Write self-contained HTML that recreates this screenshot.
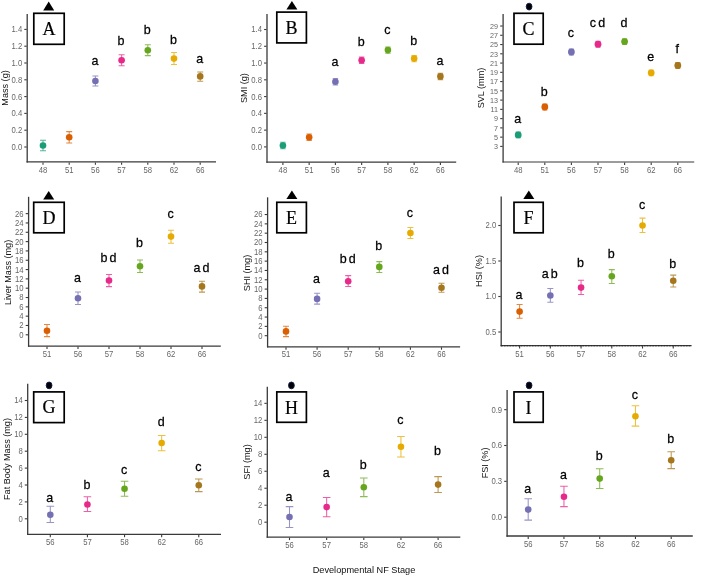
<!DOCTYPE html>
<html lang="en">
<head>
<meta charset="utf-8">
<title>Developmental NF Stage figure</title>
<style>
html,body{margin:0;padding:0;background:#fff;}
body{width:702px;height:577px;overflow:hidden;}
svg{display:block;filter:blur(0.4px);}
.tk{font-family:"Liberation Sans",Arial,sans-serif;font-size:7.7px;fill:#666666;stroke:#666666;stroke-width:0px;}
.yt{font-family:"Liberation Sans",Arial,sans-serif;font-size:9.1px;fill:#111;}
.lt{font-family:"Liberation Sans",Arial,sans-serif;font-size:12.5px;fill:#000;stroke:#000;stroke-width:0.25px;word-spacing:-1.4px;}
.pl{font-family:"Liberation Serif","Times New Roman",serif;font-size:18px;fill:#000;stroke:#000;stroke-width:0.2px;}
.xt{font-family:"Liberation Sans",Arial,sans-serif;font-size:9.2px;fill:#111;}
</style>
</head>
<body>
<svg width="702" height="577" viewBox="0 0 702 577">
<rect x="0" y="0" width="702" height="577" fill="#ffffff"/>
<g id="panel-A">
<path d="M27.20 14.00V162.50" fill="none" stroke="#3a3a3a" stroke-width="1.30"/>
<path d="M26.55 161.90H216.00" fill="none" stroke="#3a3a3a" stroke-width="1.20"/>
<path d="M24.30 147.00h2.4" stroke="#3a3a3a" stroke-width="1.1"/>
<text class="tk" transform="translate(22.20 149.95) scale(1 1.08)" text-anchor="end">0.0</text>
<path d="M24.30 130.20h2.4" stroke="#3a3a3a" stroke-width="1.1"/>
<text class="tk" transform="translate(22.20 133.15) scale(1 1.08)" text-anchor="end">0.2</text>
<path d="M24.30 113.40h2.4" stroke="#3a3a3a" stroke-width="1.1"/>
<text class="tk" transform="translate(22.20 116.35) scale(1 1.08)" text-anchor="end">0.4</text>
<path d="M24.30 96.60h2.4" stroke="#3a3a3a" stroke-width="1.1"/>
<text class="tk" transform="translate(22.20 99.55) scale(1 1.08)" text-anchor="end">0.6</text>
<path d="M24.30 79.80h2.4" stroke="#3a3a3a" stroke-width="1.1"/>
<text class="tk" transform="translate(22.20 82.75) scale(1 1.08)" text-anchor="end">0.8</text>
<path d="M24.30 63.00h2.4" stroke="#3a3a3a" stroke-width="1.1"/>
<text class="tk" transform="translate(22.20 65.95) scale(1 1.08)" text-anchor="end">1.0</text>
<path d="M24.30 46.20h2.4" stroke="#3a3a3a" stroke-width="1.1"/>
<text class="tk" transform="translate(22.20 49.15) scale(1 1.08)" text-anchor="end">1.2</text>
<path d="M24.30 29.40h2.4" stroke="#3a3a3a" stroke-width="1.1"/>
<text class="tk" transform="translate(22.20 32.35) scale(1 1.08)" text-anchor="end">1.4</text>
<path d="M43.00 162.40v2.4" stroke="#3a3a3a" stroke-width="1.1"/>
<text class="tk" transform="translate(43.00 172.70) scale(1 1.08)" text-anchor="middle">48</text>
<path d="M69.20 162.40v2.4" stroke="#3a3a3a" stroke-width="1.1"/>
<text class="tk" transform="translate(69.20 172.70) scale(1 1.08)" text-anchor="middle">51</text>
<path d="M95.40 162.40v2.4" stroke="#3a3a3a" stroke-width="1.1"/>
<text class="tk" transform="translate(95.40 172.70) scale(1 1.08)" text-anchor="middle">56</text>
<path d="M121.60 162.40v2.4" stroke="#3a3a3a" stroke-width="1.1"/>
<text class="tk" transform="translate(121.60 172.70) scale(1 1.08)" text-anchor="middle">57</text>
<path d="M147.80 162.40v2.4" stroke="#3a3a3a" stroke-width="1.1"/>
<text class="tk" transform="translate(147.80 172.70) scale(1 1.08)" text-anchor="middle">58</text>
<path d="M174.00 162.40v2.4" stroke="#3a3a3a" stroke-width="1.1"/>
<text class="tk" transform="translate(174.00 172.70) scale(1 1.08)" text-anchor="middle">62</text>
<path d="M200.20 162.40v2.4" stroke="#3a3a3a" stroke-width="1.1"/>
<text class="tk" transform="translate(200.20 172.70) scale(1 1.08)" text-anchor="middle">66</text>
<text class="yt" transform="translate(8.00 87.95) rotate(-90)" text-anchor="middle">Mass (g)</text>
<path d="M43.00 140.30V150.70M40.00 140.30h6.00M40.00 150.70h6.00" fill="none" stroke="#1B9E77" stroke-width="1.05" opacity="0.75"/>
<circle cx="43.00" cy="145.50" r="3.30" fill="#1B9E77"/>
<path d="M69.20 131.60V142.90M66.20 131.60h6.00M66.20 142.90h6.00" fill="none" stroke="#D95F02" stroke-width="1.05" opacity="0.75"/>
<circle cx="69.20" cy="137.20" r="3.30" fill="#D95F02"/>
<path d="M95.40 76.00V86.00M92.40 76.00h6.00M92.40 86.00h6.00" fill="none" stroke="#7570B3" stroke-width="1.05" opacity="0.75"/>
<circle cx="95.40" cy="81.00" r="3.30" fill="#7570B3"/>
<text class="lt" transform="translate(94.90 65.40) scale(1 1.04)" text-anchor="middle">a</text>
<path d="M121.60 54.70V65.80M118.60 54.70h6.00M118.60 65.80h6.00" fill="none" stroke="#E7298A" stroke-width="1.05" opacity="0.75"/>
<circle cx="121.60" cy="60.30" r="3.30" fill="#E7298A"/>
<text class="lt" transform="translate(121.10 45.10) scale(1 1.04)" text-anchor="middle">b</text>
<path d="M147.80 44.70V55.60M144.80 44.70h6.00M144.80 55.60h6.00" fill="none" stroke="#66A61E" stroke-width="1.05" opacity="0.75"/>
<circle cx="147.80" cy="50.20" r="3.30" fill="#66A61E"/>
<text class="lt" transform="translate(147.30 33.50) scale(1 1.04)" text-anchor="middle">b</text>
<path d="M174.00 52.50V64.40M171.00 52.50h6.00M171.00 64.40h6.00" fill="none" stroke="#E6AB02" stroke-width="1.05" opacity="0.75"/>
<circle cx="174.00" cy="58.60" r="3.30" fill="#E6AB02"/>
<text class="lt" transform="translate(173.50 43.90) scale(1 1.04)" text-anchor="middle">b</text>
<path d="M200.20 71.90V81.30M197.20 71.90h6.00M197.20 81.30h6.00" fill="none" stroke="#A6761D" stroke-width="1.05" opacity="0.75"/>
<circle cx="200.20" cy="76.40" r="3.30" fill="#A6761D"/>
<text class="lt" transform="translate(199.70 63.30) scale(1 1.04)" text-anchor="middle">a</text>
<rect x="33.80" y="13.30" width="30.40" height="31.00" fill="#fff" stroke="#000" stroke-width="1.7"/>
<text class="pl" x="49.00" y="35.20" text-anchor="middle">A</text>
<path d="M48.70 1.50L54.20 10.40H43.20Z" fill="#000"/>
</g>
<g id="panel-B">
<path d="M267.00 14.00V162.70" fill="none" stroke="#3a3a3a" stroke-width="1.30"/>
<path d="M266.35 162.10H456.20" fill="none" stroke="#3a3a3a" stroke-width="1.20"/>
<path d="M264.10 146.90h2.4" stroke="#3a3a3a" stroke-width="1.1"/>
<text class="tk" transform="translate(262.00 149.85) scale(1 1.08)" text-anchor="end">0.0</text>
<path d="M264.10 130.13h2.4" stroke="#3a3a3a" stroke-width="1.1"/>
<text class="tk" transform="translate(262.00 133.08) scale(1 1.08)" text-anchor="end">0.2</text>
<path d="M264.10 113.36h2.4" stroke="#3a3a3a" stroke-width="1.1"/>
<text class="tk" transform="translate(262.00 116.31) scale(1 1.08)" text-anchor="end">0.4</text>
<path d="M264.10 96.59h2.4" stroke="#3a3a3a" stroke-width="1.1"/>
<text class="tk" transform="translate(262.00 99.54) scale(1 1.08)" text-anchor="end">0.6</text>
<path d="M264.10 79.82h2.4" stroke="#3a3a3a" stroke-width="1.1"/>
<text class="tk" transform="translate(262.00 82.77) scale(1 1.08)" text-anchor="end">0.8</text>
<path d="M264.10 63.05h2.4" stroke="#3a3a3a" stroke-width="1.1"/>
<text class="tk" transform="translate(262.00 66.00) scale(1 1.08)" text-anchor="end">1.0</text>
<path d="M264.10 46.28h2.4" stroke="#3a3a3a" stroke-width="1.1"/>
<text class="tk" transform="translate(262.00 49.23) scale(1 1.08)" text-anchor="end">1.2</text>
<path d="M264.10 29.51h2.4" stroke="#3a3a3a" stroke-width="1.1"/>
<text class="tk" transform="translate(262.00 32.46) scale(1 1.08)" text-anchor="end">1.4</text>
<path d="M282.90 162.60v2.4" stroke="#3a3a3a" stroke-width="1.1"/>
<text class="tk" transform="translate(282.90 172.90) scale(1 1.08)" text-anchor="middle">48</text>
<path d="M309.15 162.60v2.4" stroke="#3a3a3a" stroke-width="1.1"/>
<text class="tk" transform="translate(309.15 172.90) scale(1 1.08)" text-anchor="middle">51</text>
<path d="M335.40 162.60v2.4" stroke="#3a3a3a" stroke-width="1.1"/>
<text class="tk" transform="translate(335.40 172.90) scale(1 1.08)" text-anchor="middle">56</text>
<path d="M361.65 162.60v2.4" stroke="#3a3a3a" stroke-width="1.1"/>
<text class="tk" transform="translate(361.65 172.90) scale(1 1.08)" text-anchor="middle">57</text>
<path d="M387.90 162.60v2.4" stroke="#3a3a3a" stroke-width="1.1"/>
<text class="tk" transform="translate(387.90 172.90) scale(1 1.08)" text-anchor="middle">58</text>
<path d="M414.15 162.60v2.4" stroke="#3a3a3a" stroke-width="1.1"/>
<text class="tk" transform="translate(414.15 172.90) scale(1 1.08)" text-anchor="middle">62</text>
<path d="M440.40 162.60v2.4" stroke="#3a3a3a" stroke-width="1.1"/>
<text class="tk" transform="translate(440.40 172.90) scale(1 1.08)" text-anchor="middle">66</text>
<text class="yt" transform="translate(247.10 88.05) rotate(-90)" text-anchor="middle">SMI (g)</text>
<path d="M282.90 142.30V148.70M280.20 142.30h5.40M280.20 148.70h5.40" fill="none" stroke="#1B9E77" stroke-width="1.05" opacity="0.75"/>
<circle cx="282.90" cy="145.50" r="3.30" fill="#1B9E77"/>
<path d="M309.15 134.00V140.40M306.45 134.00h5.40M306.45 140.40h5.40" fill="none" stroke="#D95F02" stroke-width="1.05" opacity="0.75"/>
<circle cx="309.15" cy="137.20" r="3.30" fill="#D95F02"/>
<path d="M335.40 78.60V85.00M332.70 78.60h5.40M332.70 85.00h5.40" fill="none" stroke="#7570B3" stroke-width="1.05" opacity="0.75"/>
<circle cx="335.40" cy="81.80" r="3.30" fill="#7570B3"/>
<text class="lt" transform="translate(334.90 66.30) scale(1 1.04)" text-anchor="middle">a</text>
<path d="M361.65 57.10V63.50M358.95 57.10h5.40M358.95 63.50h5.40" fill="none" stroke="#E7298A" stroke-width="1.05" opacity="0.75"/>
<circle cx="361.65" cy="60.30" r="3.30" fill="#E7298A"/>
<text class="lt" transform="translate(361.15 45.90) scale(1 1.04)" text-anchor="middle">b</text>
<path d="M387.90 46.90V53.30M385.20 46.90h5.40M385.20 53.30h5.40" fill="none" stroke="#66A61E" stroke-width="1.05" opacity="0.75"/>
<circle cx="387.90" cy="50.10" r="3.30" fill="#66A61E"/>
<text class="lt" transform="translate(387.40 33.80) scale(1 1.04)" text-anchor="middle">c</text>
<path d="M414.15 55.40V61.80M411.45 55.40h5.40M411.45 61.80h5.40" fill="none" stroke="#E6AB02" stroke-width="1.05" opacity="0.75"/>
<circle cx="414.15" cy="58.60" r="3.30" fill="#E6AB02"/>
<text class="lt" transform="translate(413.65 45.10) scale(1 1.04)" text-anchor="middle">b</text>
<path d="M440.40 73.20V79.60M437.70 73.20h5.40M437.70 79.60h5.40" fill="none" stroke="#A6761D" stroke-width="1.05" opacity="0.75"/>
<circle cx="440.40" cy="76.40" r="3.30" fill="#A6761D"/>
<text class="lt" transform="translate(439.90 65.40) scale(1 1.04)" text-anchor="middle">a</text>
<rect x="276.80" y="12.10" width="29.60" height="30.80" fill="#fff" stroke="#000" stroke-width="1.7"/>
<text class="pl" x="291.60" y="33.50" text-anchor="middle">B</text>
<path d="M291.90 0.90L297.40 9.40H286.40Z" fill="#000"/>
</g>
<g id="panel-C">
<path d="M503.10 14.00V162.60" fill="none" stroke="#3a3a3a" stroke-width="1.30"/>
<path d="M502.45 162.00H694.20" fill="none" stroke="#3a3a3a" stroke-width="1.20"/>
<path d="M500.20 146.40h2.4" stroke="#3a3a3a" stroke-width="1.1"/>
<text class="tk" style="font-size:7.2px" transform="translate(498.10 149.15) scale(1 1.08)" text-anchor="end">3</text>
<path d="M500.20 137.14h2.4" stroke="#3a3a3a" stroke-width="1.1"/>
<text class="tk" style="font-size:7.2px" transform="translate(498.10 139.89) scale(1 1.08)" text-anchor="end">5</text>
<path d="M500.20 127.88h2.4" stroke="#3a3a3a" stroke-width="1.1"/>
<text class="tk" style="font-size:7.2px" transform="translate(498.10 130.63) scale(1 1.08)" text-anchor="end">7</text>
<path d="M500.20 118.62h2.4" stroke="#3a3a3a" stroke-width="1.1"/>
<text class="tk" style="font-size:7.2px" transform="translate(498.10 121.37) scale(1 1.08)" text-anchor="end">9</text>
<path d="M500.20 109.36h2.4" stroke="#3a3a3a" stroke-width="1.1"/>
<text class="tk" style="font-size:7.2px" transform="translate(498.10 112.11) scale(1 1.08)" text-anchor="end">11</text>
<path d="M500.20 100.10h2.4" stroke="#3a3a3a" stroke-width="1.1"/>
<text class="tk" style="font-size:7.2px" transform="translate(498.10 102.85) scale(1 1.08)" text-anchor="end">13</text>
<path d="M500.20 90.84h2.4" stroke="#3a3a3a" stroke-width="1.1"/>
<text class="tk" style="font-size:7.2px" transform="translate(498.10 93.59) scale(1 1.08)" text-anchor="end">15</text>
<path d="M500.20 81.58h2.4" stroke="#3a3a3a" stroke-width="1.1"/>
<text class="tk" style="font-size:7.2px" transform="translate(498.10 84.33) scale(1 1.08)" text-anchor="end">17</text>
<path d="M500.20 72.32h2.4" stroke="#3a3a3a" stroke-width="1.1"/>
<text class="tk" style="font-size:7.2px" transform="translate(498.10 75.07) scale(1 1.08)" text-anchor="end">19</text>
<path d="M500.20 63.06h2.4" stroke="#3a3a3a" stroke-width="1.1"/>
<text class="tk" style="font-size:7.2px" transform="translate(498.10 65.81) scale(1 1.08)" text-anchor="end">21</text>
<path d="M500.20 53.80h2.4" stroke="#3a3a3a" stroke-width="1.1"/>
<text class="tk" style="font-size:7.2px" transform="translate(498.10 56.55) scale(1 1.08)" text-anchor="end">23</text>
<path d="M500.20 44.54h2.4" stroke="#3a3a3a" stroke-width="1.1"/>
<text class="tk" style="font-size:7.2px" transform="translate(498.10 47.29) scale(1 1.08)" text-anchor="end">25</text>
<path d="M500.20 35.28h2.4" stroke="#3a3a3a" stroke-width="1.1"/>
<text class="tk" style="font-size:7.2px" transform="translate(498.10 38.03) scale(1 1.08)" text-anchor="end">27</text>
<path d="M500.20 26.02h2.4" stroke="#3a3a3a" stroke-width="1.1"/>
<text class="tk" style="font-size:7.2px" transform="translate(498.10 28.77) scale(1 1.08)" text-anchor="end">29</text>
<path d="M518.20 162.50v2.4" stroke="#3a3a3a" stroke-width="1.1"/>
<text class="tk" transform="translate(518.20 172.80) scale(1 1.08)" text-anchor="middle">48</text>
<path d="M544.80 162.50v2.4" stroke="#3a3a3a" stroke-width="1.1"/>
<text class="tk" transform="translate(544.80 172.80) scale(1 1.08)" text-anchor="middle">51</text>
<path d="M571.40 162.50v2.4" stroke="#3a3a3a" stroke-width="1.1"/>
<text class="tk" transform="translate(571.40 172.80) scale(1 1.08)" text-anchor="middle">56</text>
<path d="M598.00 162.50v2.4" stroke="#3a3a3a" stroke-width="1.1"/>
<text class="tk" transform="translate(598.00 172.80) scale(1 1.08)" text-anchor="middle">57</text>
<path d="M624.60 162.50v2.4" stroke="#3a3a3a" stroke-width="1.1"/>
<text class="tk" transform="translate(624.60 172.80) scale(1 1.08)" text-anchor="middle">58</text>
<path d="M651.20 162.50v2.4" stroke="#3a3a3a" stroke-width="1.1"/>
<text class="tk" transform="translate(651.20 172.80) scale(1 1.08)" text-anchor="middle">62</text>
<path d="M677.80 162.50v2.4" stroke="#3a3a3a" stroke-width="1.1"/>
<text class="tk" transform="translate(677.80 172.80) scale(1 1.08)" text-anchor="middle">66</text>
<text class="yt" transform="translate(484.30 88.00) rotate(-90)" text-anchor="middle">SVL (mm)</text>
<path d="M518.20 132.00V137.80M515.70 132.00h5.00M515.70 137.80h5.00" fill="none" stroke="#1B9E77" stroke-width="1.05" opacity="0.75"/>
<circle cx="518.20" cy="134.90" r="3.40" fill="#1B9E77"/>
<text class="lt" transform="translate(517.70 123.30) scale(1 1.04)" text-anchor="middle">a</text>
<path d="M544.80 104.10V109.90M542.30 104.10h5.00M542.30 109.90h5.00" fill="none" stroke="#D95F02" stroke-width="1.05" opacity="0.75"/>
<circle cx="544.80" cy="107.00" r="3.40" fill="#D95F02"/>
<text class="lt" transform="translate(544.30 95.80) scale(1 1.04)" text-anchor="middle">b</text>
<path d="M571.40 49.10V54.90M568.90 49.10h5.00M568.90 54.90h5.00" fill="none" stroke="#7570B3" stroke-width="1.05" opacity="0.75"/>
<circle cx="571.40" cy="52.00" r="3.40" fill="#7570B3"/>
<text class="lt" transform="translate(570.90 37.20) scale(1 1.04)" text-anchor="middle">c</text>
<path d="M598.00 41.30V47.10M595.50 41.30h5.00M595.50 47.10h5.00" fill="none" stroke="#E7298A" stroke-width="1.05" opacity="0.75"/>
<circle cx="598.00" cy="44.20" r="3.40" fill="#E7298A"/>
<text class="lt" transform="translate(597.50 27.30) scale(1 1.04)" text-anchor="middle">c d</text>
<path d="M624.60 38.70V44.50M622.10 38.70h5.00M622.10 44.50h5.00" fill="none" stroke="#66A61E" stroke-width="1.05" opacity="0.75"/>
<circle cx="624.60" cy="41.60" r="3.40" fill="#66A61E"/>
<text class="lt" transform="translate(624.10 26.80) scale(1 1.04)" text-anchor="middle">d</text>
<path d="M651.20 69.90V75.70M648.70 69.90h5.00M648.70 75.70h5.00" fill="none" stroke="#E6AB02" stroke-width="1.05" opacity="0.75"/>
<circle cx="651.20" cy="72.80" r="3.40" fill="#E6AB02"/>
<text class="lt" transform="translate(650.70 61.10) scale(1 1.04)" text-anchor="middle">e</text>
<path d="M677.80 62.60V68.40M675.30 62.60h5.00M675.30 68.40h5.00" fill="none" stroke="#A6761D" stroke-width="1.05" opacity="0.75"/>
<circle cx="677.80" cy="65.50" r="3.40" fill="#A6761D"/>
<text class="lt" transform="translate(677.30 52.90) scale(1 1.04)" text-anchor="middle">f</text>
<rect x="514.00" y="13.30" width="29.20" height="30.90" fill="#fff" stroke="#000" stroke-width="1.7"/>
<text class="pl" x="528.40" y="35.20" text-anchor="middle">C</text>
<ellipse cx="529.10" cy="6.60" rx="2.9" ry="3.4" fill="#000" stroke="#101c4e" stroke-width="0.9"/>
</g>
<g id="panel-D">
<path d="M28.60 196.80V346.70" fill="none" stroke="#3a3a3a" stroke-width="1.30"/>
<path d="M27.95 346.10H220.80" fill="none" stroke="#3a3a3a" stroke-width="1.20"/>
<path d="M25.70 334.80h2.4" stroke="#3a3a3a" stroke-width="1.1"/>
<text class="tk" transform="translate(23.60 337.75) scale(1 1.08)" text-anchor="end">0</text>
<path d="M25.70 325.48h2.4" stroke="#3a3a3a" stroke-width="1.1"/>
<text class="tk" transform="translate(23.60 328.43) scale(1 1.08)" text-anchor="end">2</text>
<path d="M25.70 316.16h2.4" stroke="#3a3a3a" stroke-width="1.1"/>
<text class="tk" transform="translate(23.60 319.11) scale(1 1.08)" text-anchor="end">4</text>
<path d="M25.70 306.84h2.4" stroke="#3a3a3a" stroke-width="1.1"/>
<text class="tk" transform="translate(23.60 309.79) scale(1 1.08)" text-anchor="end">6</text>
<path d="M25.70 297.52h2.4" stroke="#3a3a3a" stroke-width="1.1"/>
<text class="tk" transform="translate(23.60 300.47) scale(1 1.08)" text-anchor="end">8</text>
<path d="M25.70 288.20h2.4" stroke="#3a3a3a" stroke-width="1.1"/>
<text class="tk" transform="translate(23.60 291.15) scale(1 1.08)" text-anchor="end">10</text>
<path d="M25.70 278.88h2.4" stroke="#3a3a3a" stroke-width="1.1"/>
<text class="tk" transform="translate(23.60 281.83) scale(1 1.08)" text-anchor="end">12</text>
<path d="M25.70 269.56h2.4" stroke="#3a3a3a" stroke-width="1.1"/>
<text class="tk" transform="translate(23.60 272.51) scale(1 1.08)" text-anchor="end">14</text>
<path d="M25.70 260.24h2.4" stroke="#3a3a3a" stroke-width="1.1"/>
<text class="tk" transform="translate(23.60 263.19) scale(1 1.08)" text-anchor="end">16</text>
<path d="M25.70 250.92h2.4" stroke="#3a3a3a" stroke-width="1.1"/>
<text class="tk" transform="translate(23.60 253.87) scale(1 1.08)" text-anchor="end">18</text>
<path d="M25.70 241.60h2.4" stroke="#3a3a3a" stroke-width="1.1"/>
<text class="tk" transform="translate(23.60 244.55) scale(1 1.08)" text-anchor="end">20</text>
<path d="M25.70 232.28h2.4" stroke="#3a3a3a" stroke-width="1.1"/>
<text class="tk" transform="translate(23.60 235.23) scale(1 1.08)" text-anchor="end">22</text>
<path d="M25.70 222.96h2.4" stroke="#3a3a3a" stroke-width="1.1"/>
<text class="tk" transform="translate(23.60 225.91) scale(1 1.08)" text-anchor="end">24</text>
<path d="M25.70 213.64h2.4" stroke="#3a3a3a" stroke-width="1.1"/>
<text class="tk" transform="translate(23.60 216.59) scale(1 1.08)" text-anchor="end">26</text>
<path d="M47.00 346.60v2.4" stroke="#3a3a3a" stroke-width="1.1"/>
<text class="tk" transform="translate(47.00 356.90) scale(1 1.08)" text-anchor="middle">51</text>
<path d="M78.00 346.60v2.4" stroke="#3a3a3a" stroke-width="1.1"/>
<text class="tk" transform="translate(78.00 356.90) scale(1 1.08)" text-anchor="middle">56</text>
<path d="M109.00 346.60v2.4" stroke="#3a3a3a" stroke-width="1.1"/>
<text class="tk" transform="translate(109.00 356.90) scale(1 1.08)" text-anchor="middle">57</text>
<path d="M140.00 346.60v2.4" stroke="#3a3a3a" stroke-width="1.1"/>
<text class="tk" transform="translate(140.00 356.90) scale(1 1.08)" text-anchor="middle">58</text>
<path d="M171.00 346.60v2.4" stroke="#3a3a3a" stroke-width="1.1"/>
<text class="tk" transform="translate(171.00 356.90) scale(1 1.08)" text-anchor="middle">62</text>
<path d="M202.00 346.60v2.4" stroke="#3a3a3a" stroke-width="1.1"/>
<text class="tk" transform="translate(202.00 356.90) scale(1 1.08)" text-anchor="middle">66</text>
<text class="yt" transform="translate(10.70 272.40) rotate(-90)" text-anchor="middle">Liver Mass (mg)</text>
<path d="M47.00 324.40V336.60M44.00 324.40h6.00M44.00 336.60h6.00" fill="none" stroke="#D95F02" stroke-width="1.05" opacity="0.75"/>
<circle cx="47.00" cy="330.80" r="3.30" fill="#D95F02"/>
<path d="M78.00 292.00V304.50M75.00 292.00h6.00M75.00 304.50h6.00" fill="none" stroke="#7570B3" stroke-width="1.05" opacity="0.75"/>
<circle cx="78.00" cy="298.20" r="3.30" fill="#7570B3"/>
<text class="lt" transform="translate(77.50 282.20) scale(1 1.04)" text-anchor="middle">a</text>
<path d="M109.00 274.40V286.60M106.00 274.40h6.00M106.00 286.60h6.00" fill="none" stroke="#E7298A" stroke-width="1.05" opacity="0.75"/>
<circle cx="109.00" cy="280.50" r="3.30" fill="#E7298A"/>
<text class="lt" transform="translate(108.50 262.20) scale(1 1.04)" text-anchor="middle">b d</text>
<path d="M140.00 260.00V272.50M137.00 260.00h6.00M137.00 272.50h6.00" fill="none" stroke="#66A61E" stroke-width="1.05" opacity="0.75"/>
<circle cx="140.00" cy="266.30" r="3.30" fill="#66A61E"/>
<text class="lt" transform="translate(139.50 247.40) scale(1 1.04)" text-anchor="middle">b</text>
<path d="M171.00 230.20V243.20M168.00 230.20h6.00M168.00 243.20h6.00" fill="none" stroke="#E6AB02" stroke-width="1.05" opacity="0.75"/>
<circle cx="171.00" cy="236.60" r="3.30" fill="#E6AB02"/>
<text class="lt" transform="translate(170.50 217.90) scale(1 1.04)" text-anchor="middle">c</text>
<path d="M202.00 281.20V292.10M199.00 281.20h6.00M199.00 292.10h6.00" fill="none" stroke="#A6761D" stroke-width="1.05" opacity="0.75"/>
<circle cx="202.00" cy="286.40" r="3.30" fill="#A6761D"/>
<text class="lt" transform="translate(201.50 272.20) scale(1 1.04)" text-anchor="middle">a d</text>
<rect x="33.70" y="202.30" width="30.50" height="30.50" fill="#fff" stroke="#000" stroke-width="1.7"/>
<text class="pl" x="48.90" y="224.00" text-anchor="middle">D</text>
<path d="M48.70 191.10L54.20 199.40H43.20Z" fill="#000"/>
</g>
<g id="panel-E">
<path d="M267.60 197.30V347.40" fill="none" stroke="#3a3a3a" stroke-width="1.30"/>
<path d="M266.95 346.80H460.10" fill="none" stroke="#3a3a3a" stroke-width="1.20"/>
<path d="M264.70 335.70h2.4" stroke="#3a3a3a" stroke-width="1.1"/>
<text class="tk" transform="translate(262.60 338.65) scale(1 1.08)" text-anchor="end">0</text>
<path d="M264.70 326.38h2.4" stroke="#3a3a3a" stroke-width="1.1"/>
<text class="tk" transform="translate(262.60 329.33) scale(1 1.08)" text-anchor="end">2</text>
<path d="M264.70 317.06h2.4" stroke="#3a3a3a" stroke-width="1.1"/>
<text class="tk" transform="translate(262.60 320.01) scale(1 1.08)" text-anchor="end">4</text>
<path d="M264.70 307.74h2.4" stroke="#3a3a3a" stroke-width="1.1"/>
<text class="tk" transform="translate(262.60 310.69) scale(1 1.08)" text-anchor="end">6</text>
<path d="M264.70 298.42h2.4" stroke="#3a3a3a" stroke-width="1.1"/>
<text class="tk" transform="translate(262.60 301.37) scale(1 1.08)" text-anchor="end">8</text>
<path d="M264.70 289.10h2.4" stroke="#3a3a3a" stroke-width="1.1"/>
<text class="tk" transform="translate(262.60 292.05) scale(1 1.08)" text-anchor="end">10</text>
<path d="M264.70 279.78h2.4" stroke="#3a3a3a" stroke-width="1.1"/>
<text class="tk" transform="translate(262.60 282.73) scale(1 1.08)" text-anchor="end">12</text>
<path d="M264.70 270.46h2.4" stroke="#3a3a3a" stroke-width="1.1"/>
<text class="tk" transform="translate(262.60 273.41) scale(1 1.08)" text-anchor="end">14</text>
<path d="M264.70 261.14h2.4" stroke="#3a3a3a" stroke-width="1.1"/>
<text class="tk" transform="translate(262.60 264.09) scale(1 1.08)" text-anchor="end">16</text>
<path d="M264.70 251.82h2.4" stroke="#3a3a3a" stroke-width="1.1"/>
<text class="tk" transform="translate(262.60 254.77) scale(1 1.08)" text-anchor="end">18</text>
<path d="M264.70 242.50h2.4" stroke="#3a3a3a" stroke-width="1.1"/>
<text class="tk" transform="translate(262.60 245.45) scale(1 1.08)" text-anchor="end">20</text>
<path d="M264.70 233.18h2.4" stroke="#3a3a3a" stroke-width="1.1"/>
<text class="tk" transform="translate(262.60 236.13) scale(1 1.08)" text-anchor="end">22</text>
<path d="M264.70 223.86h2.4" stroke="#3a3a3a" stroke-width="1.1"/>
<text class="tk" transform="translate(262.60 226.81) scale(1 1.08)" text-anchor="end">24</text>
<path d="M264.70 214.54h2.4" stroke="#3a3a3a" stroke-width="1.1"/>
<text class="tk" transform="translate(262.60 217.49) scale(1 1.08)" text-anchor="end">26</text>
<path d="M286.00 347.30v2.4" stroke="#3a3a3a" stroke-width="1.1"/>
<text class="tk" transform="translate(286.00 357.30) scale(1 1.08)" text-anchor="middle">51</text>
<path d="M317.10 347.30v2.4" stroke="#3a3a3a" stroke-width="1.1"/>
<text class="tk" transform="translate(317.10 357.30) scale(1 1.08)" text-anchor="middle">56</text>
<path d="M348.20 347.30v2.4" stroke="#3a3a3a" stroke-width="1.1"/>
<text class="tk" transform="translate(348.20 357.30) scale(1 1.08)" text-anchor="middle">57</text>
<path d="M379.30 347.30v2.4" stroke="#3a3a3a" stroke-width="1.1"/>
<text class="tk" transform="translate(379.30 357.30) scale(1 1.08)" text-anchor="middle">58</text>
<path d="M410.40 347.30v2.4" stroke="#3a3a3a" stroke-width="1.1"/>
<text class="tk" transform="translate(410.40 357.30) scale(1 1.08)" text-anchor="middle">62</text>
<path d="M441.50 347.30v2.4" stroke="#3a3a3a" stroke-width="1.1"/>
<text class="tk" transform="translate(441.50 357.30) scale(1 1.08)" text-anchor="middle">66</text>
<text class="yt" transform="translate(249.70 273.00) rotate(-90)" text-anchor="middle">SHI (mg)</text>
<path d="M286.00 326.20V336.60M283.00 326.20h6.00M283.00 336.60h6.00" fill="none" stroke="#D95F02" stroke-width="1.05" opacity="0.75"/>
<circle cx="286.00" cy="331.40" r="3.30" fill="#D95F02"/>
<path d="M317.10 293.20V304.10M314.10 293.20h6.00M314.10 304.10h6.00" fill="none" stroke="#7570B3" stroke-width="1.05" opacity="0.75"/>
<circle cx="317.10" cy="298.90" r="3.30" fill="#7570B3"/>
<text class="lt" transform="translate(316.60 283.00) scale(1 1.04)" text-anchor="middle">a</text>
<path d="M348.20 275.60V286.40M345.20 275.60h6.00M345.20 286.40h6.00" fill="none" stroke="#E7298A" stroke-width="1.05" opacity="0.75"/>
<circle cx="348.20" cy="281.20" r="3.30" fill="#E7298A"/>
<text class="lt" transform="translate(347.70 262.50) scale(1 1.04)" text-anchor="middle">b d</text>
<path d="M379.30 261.60V272.40M376.30 261.60h6.00M376.30 272.40h6.00" fill="none" stroke="#66A61E" stroke-width="1.05" opacity="0.75"/>
<circle cx="379.30" cy="266.90" r="3.30" fill="#66A61E"/>
<text class="lt" transform="translate(378.80 249.60) scale(1 1.04)" text-anchor="middle">b</text>
<path d="M410.40 227.40V238.50M407.40 227.40h6.00M407.40 238.50h6.00" fill="none" stroke="#E6AB02" stroke-width="1.05" opacity="0.75"/>
<circle cx="410.40" cy="233.00" r="3.30" fill="#E6AB02"/>
<text class="lt" transform="translate(409.90 216.60) scale(1 1.04)" text-anchor="middle">c</text>
<path d="M441.50 283.30V292.30M438.50 283.30h6.00M438.50 292.30h6.00" fill="none" stroke="#A6761D" stroke-width="1.05" opacity="0.75"/>
<circle cx="441.50" cy="287.70" r="3.30" fill="#A6761D"/>
<text class="lt" transform="translate(441.00 273.70) scale(1 1.04)" text-anchor="middle">a d</text>
<rect x="276.80" y="202.30" width="29.60" height="30.50" fill="#fff" stroke="#000" stroke-width="1.7"/>
<text class="pl" x="291.60" y="224.00" text-anchor="middle">E</text>
<path d="M291.90 190.60L297.40 198.90H286.40Z" fill="#000"/>
</g>
<g id="panel-F">
<path d="M501.20 196.40V346.20" fill="none" stroke="#3a3a3a" stroke-width="1.30"/>
<path d="M500.55 345.60H691.60" fill="none" stroke="#3a3a3a" stroke-width="1.20"/>
<path d="M501.20 346.00H691.60" fill="none" stroke="#000" stroke-width="0.6" stroke-dasharray="1.5 1.3" opacity="0.8"/>
<path d="M498.30 332.00h2.4" stroke="#3a3a3a" stroke-width="1.1"/>
<text class="tk" transform="translate(496.20 334.95) scale(1 1.08)" text-anchor="end">0.5</text>
<path d="M498.30 296.50h2.4" stroke="#3a3a3a" stroke-width="1.1"/>
<text class="tk" transform="translate(496.20 299.45) scale(1 1.08)" text-anchor="end">1.0</text>
<path d="M498.30 261.00h2.4" stroke="#3a3a3a" stroke-width="1.1"/>
<text class="tk" transform="translate(496.20 263.95) scale(1 1.08)" text-anchor="end">1.5</text>
<path d="M498.30 225.50h2.4" stroke="#3a3a3a" stroke-width="1.1"/>
<text class="tk" transform="translate(496.20 228.45) scale(1 1.08)" text-anchor="end">2.0</text>
<path d="M519.60 346.10v2.4" stroke="#3a3a3a" stroke-width="1.1"/>
<text class="tk" transform="translate(519.60 356.90) scale(1 1.08)" text-anchor="middle">51</text>
<path d="M550.33 346.10v2.4" stroke="#3a3a3a" stroke-width="1.1"/>
<text class="tk" transform="translate(550.33 356.90) scale(1 1.08)" text-anchor="middle">56</text>
<path d="M581.06 346.10v2.4" stroke="#3a3a3a" stroke-width="1.1"/>
<text class="tk" transform="translate(581.06 356.90) scale(1 1.08)" text-anchor="middle">57</text>
<path d="M611.79 346.10v2.4" stroke="#3a3a3a" stroke-width="1.1"/>
<text class="tk" transform="translate(611.79 356.90) scale(1 1.08)" text-anchor="middle">58</text>
<path d="M642.52 346.10v2.4" stroke="#3a3a3a" stroke-width="1.1"/>
<text class="tk" transform="translate(642.52 356.90) scale(1 1.08)" text-anchor="middle">62</text>
<path d="M673.25 346.10v2.4" stroke="#3a3a3a" stroke-width="1.1"/>
<text class="tk" transform="translate(673.25 356.90) scale(1 1.08)" text-anchor="middle">66</text>
<text class="yt" transform="translate(481.70 271.00) rotate(-90)" text-anchor="middle">HSI (%)</text>
<path d="M519.60 304.50V318.30M516.60 304.50h6.00M516.60 318.30h6.00" fill="none" stroke="#D95F02" stroke-width="1.05" opacity="0.75"/>
<circle cx="519.60" cy="311.60" r="3.30" fill="#D95F02"/>
<text class="lt" transform="translate(519.10 299.30) scale(1 1.04)" text-anchor="middle">a</text>
<path d="M550.33 288.40V302.20M547.33 288.40h6.00M547.33 302.20h6.00" fill="none" stroke="#7570B3" stroke-width="1.05" opacity="0.75"/>
<circle cx="550.33" cy="295.50" r="3.30" fill="#7570B3"/>
<text class="lt" transform="translate(549.83 277.90) scale(1 1.04)" text-anchor="middle">a b</text>
<path d="M581.06 280.30V294.40M578.06 280.30h6.00M578.06 294.40h6.00" fill="none" stroke="#E7298A" stroke-width="1.05" opacity="0.75"/>
<circle cx="581.06" cy="287.60" r="3.30" fill="#E7298A"/>
<text class="lt" transform="translate(580.56 267.30) scale(1 1.04)" text-anchor="middle">b</text>
<path d="M611.79 269.60V283.40M608.79 269.60h6.00M608.79 283.40h6.00" fill="none" stroke="#66A61E" stroke-width="1.05" opacity="0.75"/>
<circle cx="611.79" cy="276.20" r="3.30" fill="#66A61E"/>
<text class="lt" transform="translate(611.29 258.40) scale(1 1.04)" text-anchor="middle">b</text>
<path d="M642.52 218.10V232.50M639.52 218.10h6.00M639.52 232.50h6.00" fill="none" stroke="#E6AB02" stroke-width="1.05" opacity="0.75"/>
<circle cx="642.52" cy="225.50" r="3.30" fill="#E6AB02"/>
<text class="lt" transform="translate(642.02 209.40) scale(1 1.04)" text-anchor="middle">c</text>
<path d="M673.25 275.10V286.90M670.25 275.10h6.00M670.25 286.90h6.00" fill="none" stroke="#A6761D" stroke-width="1.05" opacity="0.75"/>
<circle cx="673.25" cy="280.80" r="3.30" fill="#A6761D"/>
<text class="lt" transform="translate(672.75 267.90) scale(1 1.04)" text-anchor="middle">b</text>
<rect x="514.00" y="202.30" width="29.20" height="30.50" fill="#fff" stroke="#000" stroke-width="1.7"/>
<text class="pl" x="528.40" y="224.00" text-anchor="middle">F</text>
<path d="M528.80 190.60L534.30 198.90H523.30Z" fill="#000"/>
</g>
<g id="panel-G">
<path d="M27.70 383.80V534.90" fill="none" stroke="#3a3a3a" stroke-width="1.30"/>
<path d="M27.05 534.30H221.00" fill="none" stroke="#3a3a3a" stroke-width="1.20"/>
<path d="M24.80 518.80h2.4" stroke="#3a3a3a" stroke-width="1.1"/>
<text class="tk" transform="translate(22.70 521.75) scale(1 1.08)" text-anchor="end">0</text>
<path d="M24.80 501.90h2.4" stroke="#3a3a3a" stroke-width="1.1"/>
<text class="tk" transform="translate(22.70 504.85) scale(1 1.08)" text-anchor="end">2</text>
<path d="M24.80 485.00h2.4" stroke="#3a3a3a" stroke-width="1.1"/>
<text class="tk" transform="translate(22.70 487.95) scale(1 1.08)" text-anchor="end">4</text>
<path d="M24.80 468.10h2.4" stroke="#3a3a3a" stroke-width="1.1"/>
<text class="tk" transform="translate(22.70 471.05) scale(1 1.08)" text-anchor="end">6</text>
<path d="M24.80 451.20h2.4" stroke="#3a3a3a" stroke-width="1.1"/>
<text class="tk" transform="translate(22.70 454.15) scale(1 1.08)" text-anchor="end">8</text>
<path d="M24.80 434.30h2.4" stroke="#3a3a3a" stroke-width="1.1"/>
<text class="tk" transform="translate(22.70 437.25) scale(1 1.08)" text-anchor="end">10</text>
<path d="M24.80 417.40h2.4" stroke="#3a3a3a" stroke-width="1.1"/>
<text class="tk" transform="translate(22.70 420.35) scale(1 1.08)" text-anchor="end">12</text>
<path d="M24.80 400.50h2.4" stroke="#3a3a3a" stroke-width="1.1"/>
<text class="tk" transform="translate(22.70 403.45) scale(1 1.08)" text-anchor="end">14</text>
<path d="M50.30 534.80v2.4" stroke="#3a3a3a" stroke-width="1.1"/>
<text class="tk" transform="translate(50.30 545.10) scale(1 1.08)" text-anchor="middle">56</text>
<path d="M87.42 534.80v2.4" stroke="#3a3a3a" stroke-width="1.1"/>
<text class="tk" transform="translate(87.42 545.10) scale(1 1.08)" text-anchor="middle">57</text>
<path d="M124.54 534.80v2.4" stroke="#3a3a3a" stroke-width="1.1"/>
<text class="tk" transform="translate(124.54 545.10) scale(1 1.08)" text-anchor="middle">58</text>
<path d="M161.66 534.80v2.4" stroke="#3a3a3a" stroke-width="1.1"/>
<text class="tk" transform="translate(161.66 545.10) scale(1 1.08)" text-anchor="middle">62</text>
<path d="M198.78 534.80v2.4" stroke="#3a3a3a" stroke-width="1.1"/>
<text class="tk" transform="translate(198.78 545.10) scale(1 1.08)" text-anchor="middle">66</text>
<text class="yt" transform="translate(10.20 459.00) rotate(-90)" text-anchor="middle">Fat Body Mass (mg)</text>
<path d="M50.30 506.30V522.40M46.50 506.30h7.60M46.50 522.40h7.60" fill="none" stroke="#7570B3" stroke-width="1.05" opacity="0.75"/>
<circle cx="50.30" cy="514.80" r="3.30" fill="#7570B3"/>
<text class="lt" transform="translate(49.80 501.80) scale(1 1.04)" text-anchor="middle">a</text>
<path d="M87.42 496.70V511.50M83.62 496.70h7.60M83.62 511.50h7.60" fill="none" stroke="#E7298A" stroke-width="1.05" opacity="0.75"/>
<circle cx="87.42" cy="504.50" r="3.30" fill="#E7298A"/>
<text class="lt" transform="translate(86.92 488.50) scale(1 1.04)" text-anchor="middle">b</text>
<path d="M124.54 481.20V496.20M120.74 481.20h7.60M120.74 496.20h7.60" fill="none" stroke="#66A61E" stroke-width="1.05" opacity="0.75"/>
<circle cx="124.54" cy="488.80" r="3.30" fill="#66A61E"/>
<text class="lt" transform="translate(124.04 474.10) scale(1 1.04)" text-anchor="middle">c</text>
<path d="M161.66 435.40V450.80M157.86 435.40h7.60M157.86 450.80h7.60" fill="none" stroke="#E6AB02" stroke-width="1.05" opacity="0.75"/>
<circle cx="161.66" cy="443.00" r="3.30" fill="#E6AB02"/>
<text class="lt" transform="translate(161.16 425.50) scale(1 1.04)" text-anchor="middle">d</text>
<path d="M198.78 478.90V491.60M194.98 478.90h7.60M194.98 491.60h7.60" fill="none" stroke="#A6761D" stroke-width="1.05" opacity="0.75"/>
<circle cx="198.78" cy="485.30" r="3.30" fill="#A6761D"/>
<text class="lt" transform="translate(198.28 471.10) scale(1 1.04)" text-anchor="middle">c</text>
<rect x="33.70" y="391.90" width="30.50" height="30.70" fill="#fff" stroke="#000" stroke-width="1.7"/>
<text class="pl" x="48.90" y="413.10" text-anchor="middle">G</text>
<ellipse cx="49.10" cy="385.40" rx="2.9" ry="3.4" fill="#000" stroke="#101c4e" stroke-width="0.9"/>
</g>
<g id="panel-H">
<path d="M267.30 386.80V537.80" fill="none" stroke="#3a3a3a" stroke-width="1.30"/>
<path d="M266.65 537.20H460.30" fill="none" stroke="#3a3a3a" stroke-width="1.20"/>
<path d="M264.40 522.20h2.4" stroke="#3a3a3a" stroke-width="1.1"/>
<text class="tk" transform="translate(262.30 525.15) scale(1 1.08)" text-anchor="end">0</text>
<path d="M264.40 505.22h2.4" stroke="#3a3a3a" stroke-width="1.1"/>
<text class="tk" transform="translate(262.30 508.17) scale(1 1.08)" text-anchor="end">2</text>
<path d="M264.40 488.24h2.4" stroke="#3a3a3a" stroke-width="1.1"/>
<text class="tk" transform="translate(262.30 491.19) scale(1 1.08)" text-anchor="end">4</text>
<path d="M264.40 471.26h2.4" stroke="#3a3a3a" stroke-width="1.1"/>
<text class="tk" transform="translate(262.30 474.21) scale(1 1.08)" text-anchor="end">6</text>
<path d="M264.40 454.28h2.4" stroke="#3a3a3a" stroke-width="1.1"/>
<text class="tk" transform="translate(262.30 457.23) scale(1 1.08)" text-anchor="end">8</text>
<path d="M264.40 437.30h2.4" stroke="#3a3a3a" stroke-width="1.1"/>
<text class="tk" transform="translate(262.30 440.25) scale(1 1.08)" text-anchor="end">10</text>
<path d="M264.40 420.32h2.4" stroke="#3a3a3a" stroke-width="1.1"/>
<text class="tk" transform="translate(262.30 423.27) scale(1 1.08)" text-anchor="end">12</text>
<path d="M264.40 403.34h2.4" stroke="#3a3a3a" stroke-width="1.1"/>
<text class="tk" transform="translate(262.30 406.29) scale(1 1.08)" text-anchor="end">14</text>
<path d="M289.50 537.70v2.4" stroke="#3a3a3a" stroke-width="1.1"/>
<text class="tk" transform="translate(289.50 548.00) scale(1 1.08)" text-anchor="middle">56</text>
<path d="M326.65 537.70v2.4" stroke="#3a3a3a" stroke-width="1.1"/>
<text class="tk" transform="translate(326.65 548.00) scale(1 1.08)" text-anchor="middle">57</text>
<path d="M363.80 537.70v2.4" stroke="#3a3a3a" stroke-width="1.1"/>
<text class="tk" transform="translate(363.80 548.00) scale(1 1.08)" text-anchor="middle">58</text>
<path d="M400.95 537.70v2.4" stroke="#3a3a3a" stroke-width="1.1"/>
<text class="tk" transform="translate(400.95 548.00) scale(1 1.08)" text-anchor="middle">62</text>
<path d="M438.10 537.70v2.4" stroke="#3a3a3a" stroke-width="1.1"/>
<text class="tk" transform="translate(438.10 548.00) scale(1 1.08)" text-anchor="middle">66</text>
<text class="yt" transform="translate(249.70 462.00) rotate(-90)" text-anchor="middle">SFI (mg)</text>
<path d="M289.50 506.60V527.40M285.70 506.60h7.60M285.70 527.40h7.60" fill="none" stroke="#7570B3" stroke-width="1.05" opacity="0.75"/>
<circle cx="289.50" cy="517.00" r="3.30" fill="#7570B3"/>
<text class="lt" transform="translate(289.00 500.90) scale(1 1.04)" text-anchor="middle">a</text>
<path d="M326.65 497.40V516.70M322.85 497.40h7.60M322.85 516.70h7.60" fill="none" stroke="#E7298A" stroke-width="1.05" opacity="0.75"/>
<circle cx="326.65" cy="507.10" r="3.30" fill="#E7298A"/>
<text class="lt" transform="translate(326.15 477.00) scale(1 1.04)" text-anchor="middle">a</text>
<path d="M363.80 478.00V496.60M360.00 478.00h7.60M360.00 496.60h7.60" fill="none" stroke="#66A61E" stroke-width="1.05" opacity="0.75"/>
<circle cx="363.80" cy="487.20" r="3.30" fill="#66A61E"/>
<text class="lt" transform="translate(363.30 468.90) scale(1 1.04)" text-anchor="middle">b</text>
<path d="M400.95 436.40V456.90M397.15 436.40h7.60M397.15 456.90h7.60" fill="none" stroke="#E6AB02" stroke-width="1.05" opacity="0.75"/>
<circle cx="400.95" cy="446.80" r="3.30" fill="#E6AB02"/>
<text class="lt" transform="translate(400.45 423.50) scale(1 1.04)" text-anchor="middle">c</text>
<path d="M438.10 476.60V492.40M434.30 476.60h7.60M434.30 492.40h7.60" fill="none" stroke="#A6761D" stroke-width="1.05" opacity="0.75"/>
<circle cx="438.10" cy="484.60" r="3.30" fill="#A6761D"/>
<text class="lt" transform="translate(437.60 455.00) scale(1 1.04)" text-anchor="middle">b</text>
<rect x="276.80" y="391.90" width="29.60" height="30.40" fill="#fff" stroke="#000" stroke-width="1.7"/>
<text class="pl" x="291.60" y="413.50" text-anchor="middle">H</text>
<ellipse cx="291.40" cy="385.40" rx="2.9" ry="3.4" fill="#000" stroke="#101c4e" stroke-width="0.9"/>
</g>
<g id="panel-I">
<path d="M507.10 389.90V536.67" fill="none" stroke="#3a3a3a" stroke-width="1.30"/>
<path d="M506.45 536.00H692.80" fill="none" stroke="#3a3a3a" stroke-width="1.35"/>
<path d="M504.20 517.20h2.4" stroke="#3a3a3a" stroke-width="1.1"/>
<text class="tk" transform="translate(502.10 520.15) scale(1 1.08)" text-anchor="end">0.0</text>
<path d="M504.20 481.35h2.4" stroke="#3a3a3a" stroke-width="1.1"/>
<text class="tk" transform="translate(502.10 484.30) scale(1 1.08)" text-anchor="end">0.3</text>
<path d="M504.20 445.50h2.4" stroke="#3a3a3a" stroke-width="1.1"/>
<text class="tk" transform="translate(502.10 448.45) scale(1 1.08)" text-anchor="end">0.6</text>
<path d="M504.20 409.65h2.4" stroke="#3a3a3a" stroke-width="1.1"/>
<text class="tk" transform="translate(502.10 412.60) scale(1 1.08)" text-anchor="end">0.9</text>
<path d="M528.20 536.50v2.4" stroke="#3a3a3a" stroke-width="1.1"/>
<text class="tk" transform="translate(528.20 546.80) scale(1 1.08)" text-anchor="middle">56</text>
<path d="M563.95 536.50v2.4" stroke="#3a3a3a" stroke-width="1.1"/>
<text class="tk" transform="translate(563.95 546.80) scale(1 1.08)" text-anchor="middle">57</text>
<path d="M599.70 536.50v2.4" stroke="#3a3a3a" stroke-width="1.1"/>
<text class="tk" transform="translate(599.70 546.80) scale(1 1.08)" text-anchor="middle">58</text>
<path d="M635.45 536.50v2.4" stroke="#3a3a3a" stroke-width="1.1"/>
<text class="tk" transform="translate(635.45 546.80) scale(1 1.08)" text-anchor="middle">62</text>
<path d="M671.20 536.50v2.4" stroke="#3a3a3a" stroke-width="1.1"/>
<text class="tk" transform="translate(671.20 546.80) scale(1 1.08)" text-anchor="middle">66</text>
<text class="yt" transform="translate(487.50 462.95) rotate(-90)" text-anchor="middle">FSI (%)</text>
<path d="M528.20 498.80V520.10M524.40 498.80h7.60M524.40 520.10h7.60" fill="none" stroke="#7570B3" stroke-width="1.05" opacity="0.75"/>
<circle cx="528.20" cy="509.60" r="3.30" fill="#7570B3"/>
<text class="lt" transform="translate(527.70 492.80) scale(1 1.04)" text-anchor="middle">a</text>
<path d="M563.95 486.30V506.60M560.15 486.30h7.60M560.15 506.60h7.60" fill="none" stroke="#E7298A" stroke-width="1.05" opacity="0.75"/>
<circle cx="563.95" cy="496.70" r="3.30" fill="#E7298A"/>
<text class="lt" transform="translate(563.45 478.90) scale(1 1.04)" text-anchor="middle">a</text>
<path d="M599.70 468.80V488.40M595.90 468.80h7.60M595.90 488.40h7.60" fill="none" stroke="#66A61E" stroke-width="1.05" opacity="0.75"/>
<circle cx="599.70" cy="478.60" r="3.30" fill="#66A61E"/>
<text class="lt" transform="translate(599.20 460.00) scale(1 1.04)" text-anchor="middle">b</text>
<path d="M635.45 405.80V426.10M631.65 405.80h7.60M631.65 426.10h7.60" fill="none" stroke="#E6AB02" stroke-width="1.05" opacity="0.75"/>
<circle cx="635.45" cy="416.20" r="3.30" fill="#E6AB02"/>
<text class="lt" transform="translate(634.95 398.90) scale(1 1.04)" text-anchor="middle">c</text>
<path d="M671.20 451.80V468.60M667.40 451.80h7.60M667.40 468.60h7.60" fill="none" stroke="#A6761D" stroke-width="1.05" opacity="0.75"/>
<circle cx="671.20" cy="460.30" r="3.30" fill="#A6761D"/>
<text class="lt" transform="translate(670.70 442.60) scale(1 1.04)" text-anchor="middle">b</text>
<rect x="514.00" y="391.90" width="29.20" height="30.40" fill="#fff" stroke="#000" stroke-width="1.7"/>
<text class="pl" x="528.60" y="413.50" text-anchor="middle">I</text>
<ellipse cx="529.10" cy="385.40" rx="2.9" ry="3.4" fill="#000" stroke="#101c4e" stroke-width="0.9"/>
</g>
<text class="xt" transform="translate(364.0 573.3) scale(1 1.06)" text-anchor="middle">Developmental NF Stage</text>
</svg>
</body>
</html>
